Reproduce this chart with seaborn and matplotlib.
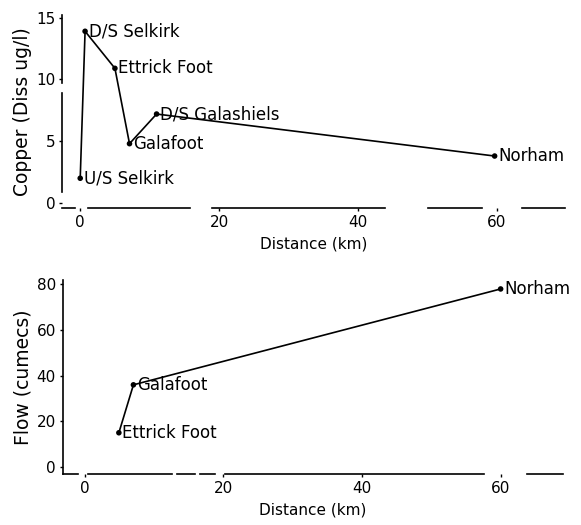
import matplotlib
matplotlib.use("Agg")
import matplotlib.pyplot as plt
import seaborn as sns
import pandas as pd

# Copper sampling sites along the river
copper_sites = ["U/S Selkirk", "D/S Selkirk", "Ettrick Foot", "Galafoot", "D/S Galashiels", "Norham"]
copper_distance = [0.0, 0.7, 5.0, 7.1, 11.0, 59.7]
copper_value = [2.0, 13.9, 10.9, 4.8, 7.2, 3.8]

# Flow gauging sites
flow_sites = ["Ettrick Foot", "Galafoot", "Norham"]
flow_distance = [4.9, 7.0, 60.0]
flow_value = [15.0, 36.0, 78.0]

x_ticks = [0, 20, 40, 60]
copper_ticks = [0, 5, 10, 15]
flow_ticks = [0, 20, 40, 60, 80]

sns.set_style("ticks")
plt.rcParams["font.family"] = ["DejaVu Sans"]
plt.rcParams["font.size"] = 11
plt.rcParams["lines.scale_dashes"] = False

DPI = 100
PX = 72.0 / DPI  # points per pixel

copper_df = pd.DataFrame({"site": copper_sites, "distance": copper_distance, "value": copper_value})
flow_df = pd.DataFrame({"site": flow_sites, "distance": flow_distance, "value": flow_value})

fig = plt.figure(figsize=(5.81, 5.25), dpi=DPI)
ax1 = fig.add_axes([0.107, 0.604, 0.865, 0.367])
ax2 = fig.add_axes([0.108, 0.097, 0.861, 0.370])


def broken(seq_px, offset_px=0):
    """Dash style for a worn, broken printed rule (lengths in pixels)."""
    return (offset_px * PX, [v * PX for v in seq_px])


def draw_panel(ax, df, xlim, ylim, yticks, ylabel, bottom_style, left_style):
    sns.lineplot(data=df, x="distance", y="value", sort=False, estimator=None,
                 color="black", linewidth=1.2, ax=ax)
    sns.scatterplot(data=df, x="distance", y="value", color="black", s=16,
                    edgecolor="none", ax=ax, zorder=3)
    for _, row in df.iterrows():
        ax.annotate(row["site"], (row["distance"], row["value"]), xytext=(2.5, 0),
                    textcoords="offset points", va="center", ha="left",
                    fontsize=12, color="black")
    ax.set_xlim(*xlim)
    ax.set_ylim(*ylim)
    ax.set_xticks(x_ticks)
    ax.set_yticks(yticks)
    ax.set_xlabel("Distance (km)", fontsize=11, labelpad=5, color="black")
    ax.set_ylabel(ylabel, fontsize=13.5, labelpad=3, color="black")
    for side in ("top", "right"):
        ax.spines[side].set_visible(False)
    for side in ("left", "bottom"):
        ax.spines[side].set_linewidth(1.2)
        ax.spines[side].set_color("black")
    ax.spines["bottom"].set_linestyle(bottom_style)
    if left_style is not None:
        ax.spines["left"].set_linestyle(left_style)
    ax.tick_params(direction="out", length=2, width=1, colors="black",
                   labelsize=11, pad=3)
    ax.set_facecolor("white")


draw_panel(ax1, copper_df, (-2.6, 69.8), (-0.4, 15.2), copper_ticks, "Copper (Diss ug/l)",
           broken([13, 13, 102, 22, 173, 43, 54, 40, 60, 10]),
           broken([99, 10, 90, 16], offset_px=199))
draw_panel(ax2, flow_df, (-3.2, 69.0), (-3.1, 82.0), flow_ticks, "Flow (cumecs)",
           broken([15, 10, 84, 5, 18, 5, 15, 10, 259, 43, 50, 10]),
           None)

fig.savefig("out.png", dpi=DPI, facecolor="white")
